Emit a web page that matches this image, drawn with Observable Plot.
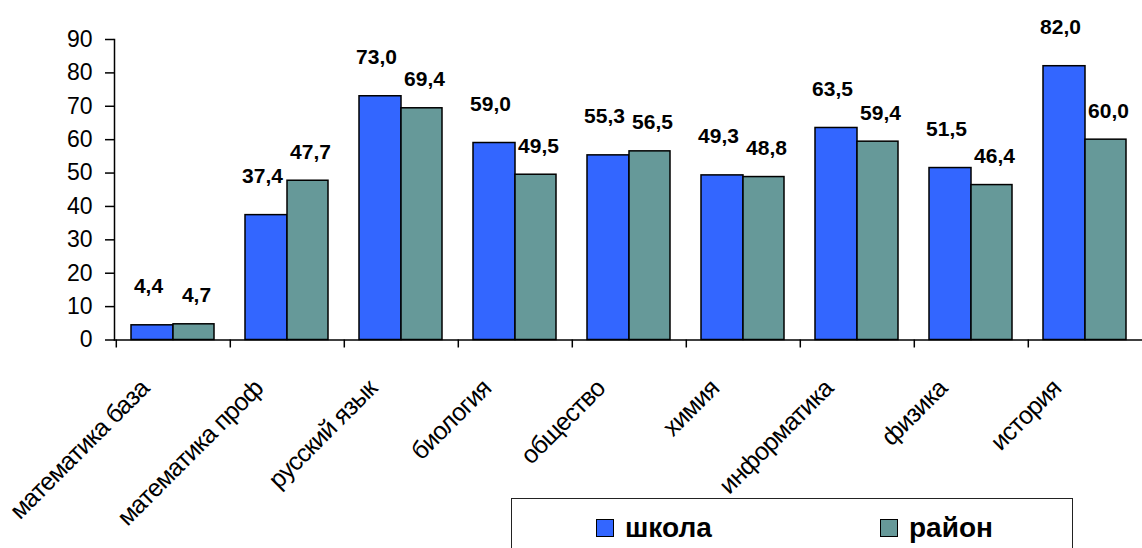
<!DOCTYPE html>
<html><head><meta charset="utf-8">
<script src="https://cdn.jsdelivr.net/npm/d3@7"></script>
<script src="https://cdn.jsdelivr.net/npm/@observablehq/plot@0.6"></script>
<style>
body{margin:0;background:#fff;font-family:"Liberation Sans",Arial,sans-serif;}
#wrap{position:relative;width:1142px;height:548px;overflow:hidden;}
#legend{position:absolute;left:511px;top:498px;width:562px;height:80px;border:1.5px solid #222;box-sizing:border-box;background:#fff}
.item{position:absolute;top:13px;display:flex;align-items:center;font-weight:bold;font-size:28px;line-height:32px;color:#000}
.sw{width:16px;height:16px;border:1.5px solid #000;margin-right:11px}
</style></head><body><div id="wrap"><div id="chart"></div><div id="legend"></div></div>
<script>
const categories = ["математика база","математика проф","русский язык","биология","общество","химия","информатика","физика","история"];
const school = [4.4,37.4,73.0,59.0,55.3,49.3,63.5,51.5,82.0];
const district = [4.7,47.7,69.4,49.5,56.5,48.8,59.4,46.4,60.0];
const seriesNames = ["школа","район"];
const colors = ["#3366FF","#669999"];
const yTicks = [0,10,20,30,40,50,60,70,80,90];

const schoolRows = categories.map((c,i)=>({cat:c, series:seriesNames[0], value:school[i]}));
const districtRows = categories.map((c,i)=>({cat:c, series:seriesNames[1], value:district[i]}));
const fmt = v => d3.format(".1f")(v).replace(".", ",");
const font = "Liberation Sans, Arial, sans-serif";

const plot = Plot.plot({
  width:1142, height:548, marginLeft:114, marginRight:0, marginTop:39, marginBottom:208.5,
  style:{fontFamily:font, background:"white", overflow:"visible", color:"#000"},
  x:{type:"band", domain:categories, range:[114,1143], padding:0, axis:null, label:null},
  y:{domain:[0,90], axis:null, label:null},
  marks:[
    Plot.barY(schoolRows, {x:"cat", y:"value", fill:colors[0], stroke:"#000", strokeWidth:1.5, insetLeft:15, insetRight:57}),
    Plot.barY(districtRows, {x:"cat", y:"value", fill:colors[1], stroke:"#000", strokeWidth:1.5, insetLeft:57, insetRight:16}),
    Plot.frame({anchor:"left", stroke:"#000", strokeWidth:1.5}),
    Plot.frame({anchor:"bottom", stroke:"#000", strokeWidth:1.5}),
    Plot.axisY({ticks:yTicks, tickSize:9, tickPadding:13, fontSize:23, tickFormat:d=>String(d), strokeWidth:1.5, label:null}),
    Plot.ruleX(categories, {x:d=>d, dx:-57.2, insetTop:300.5, insetBottom:-8, stroke:"#000", strokeWidth:1.5}),
    Plot.text(schoolRows, {x:"cat", y:"value", text:d=>fmt(d.value), dx:-25, dy:-32, lineAnchor:"bottom", fontWeight:"bold", fontSize:21, fill:"#000"}),
    Plot.text(districtRows, {x:"cat", y:"value", text:d=>fmt(d.value), dx:23, dy:-22, lineAnchor:"bottom", fontWeight:"bold", fontSize:21, fill:"#000"}),
    Plot.text(categories, {x:d=>d, frameAnchor:"bottom", text:d=>d, rotate:-45, textAnchor:"end", lineAnchor:"bottom", dx:-23, dy:50, fontSize:25, fill:"#000"})
  ]
});
document.getElementById("chart").appendChild(plot);
const textGroups = plot.querySelectorAll('g[aria-label="text"]');
if (textGroups.length) textGroups[textGroups.length - 1].setAttribute("letter-spacing", "-0.8");

const legend = document.getElementById("legend");
const lefts = [84, 368];
seriesNames.forEach((s,i)=>{
  const it = document.createElement("div");
  it.className = "item";
  it.style.left = lefts[i] + "px";
  const sw = document.createElement("span");
  sw.className = "sw";
  sw.style.background = colors[i];
  const t = document.createElement("span");
  t.textContent = s;
  it.appendChild(sw); it.appendChild(t);
  legend.appendChild(it);
});
</script></body></html>
